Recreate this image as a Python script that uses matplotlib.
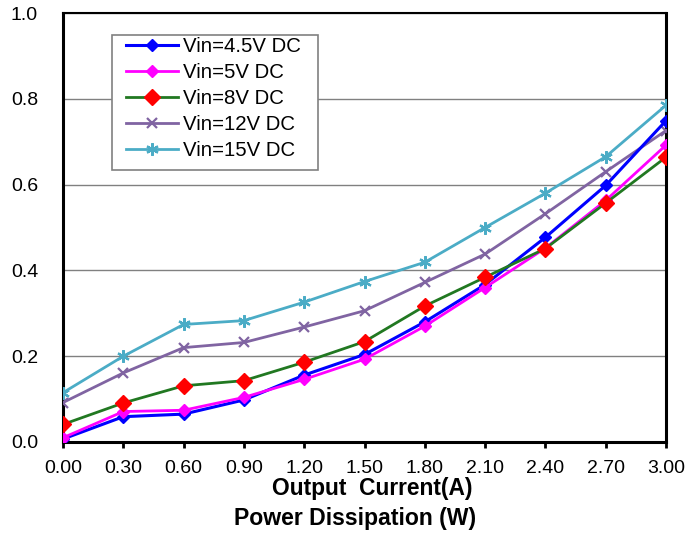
import matplotlib
matplotlib.use("Agg")
import matplotlib.pyplot as plt
from matplotlib.patches import Rectangle

plt.rcParams['font.family'] = ['Liberation Sans', 'DejaVu Sans']

# output current (A)
current = [0.00, 0.30, 0.60, 0.90, 1.20, 1.50, 1.80, 2.10, 2.40, 2.70, 3.00]
x_labels = ['0.00', '0.30', '0.60', '0.90', '1.20', '1.50', '1.80', '2.10', '2.40', '2.70', '3.00']

# power dissipation (W)
vin_4v5 = [0.007, 0.059, 0.065, 0.098, 0.156, 0.204, 0.280, 0.367, 0.477, 0.598, 0.749]
vin_5v = [0.010, 0.071, 0.074, 0.104, 0.146, 0.193, 0.270, 0.360, 0.452, 0.563, 0.692]
vin_8v = [0.041, 0.091, 0.131, 0.143, 0.186, 0.234, 0.317, 0.384, 0.451, 0.557, 0.664]
vin_12v = [0.092, 0.161, 0.220, 0.232, 0.268, 0.306, 0.372, 0.438, 0.532, 0.630, 0.726]
vin_15v = [0.115, 0.200, 0.274, 0.283, 0.326, 0.374, 0.419, 0.500, 0.580, 0.665, 0.785]

W, H = 698, 533
fig = plt.figure(figsize=(W / 100, H / 100), dpi=100)
ax = fig.add_axes([63 / W, 1 - 442 / H, 603 / W, 429 / H])

ax.plot(current, vin_4v5, color='#0000FF', lw=2.2, marker='D', ms=6,
        mfc='#0000FF', mec='#0000FF', label='Vin=4.5V DC', zorder=4)
ax.plot(current, vin_5v, color='#FF00FF', lw=2.0, marker='D', ms=6,
        mfc='#FF00FF', mec='#FF00FF', label='Vin=5V DC', zorder=5)
ax.plot(current, vin_8v, color='#217821', lw=2.0, marker='D', ms=8.5,
        mfc='#FF0000', mec='#FF0000', label='Vin=8V DC', zorder=6)
ax.plot(current, vin_12v, color='#8064A2', lw=2.0, marker='x', ms=7,
        mew=1.6, label='Vin=12V DC', zorder=3)
ax.plot(current, vin_15v, color='#4BACC6', lw=2.0, marker=(6, 2, 0), ms=9,
        mew=1.6, label='Vin=15V DC', zorder=3)

ax.set_xlim(0, 3.0)
ax.set_ylim(0, 1.0)
ax.set_xticks(current)
ax.set_xticklabels(x_labels)
ax.set_yticks([0.0, 0.2, 0.4, 0.6, 0.8, 1.0])
ax.set_yticklabels(['0.0', '0.2', '0.4', '0.6', '0.8', '1.0'])
ax.tick_params(axis='x', direction='out', length=4, width=2, pad=9, labelsize=14)
ax.tick_params(axis='y', length=0, pad=18, labelsize=14)
ax.grid(axis='y', color='#808080', lw=1.0)
ax.set_axisbelow(True)

for side in ['left', 'bottom', 'right']:
    ax.spines[side].set_linewidth(2.2)
ax.spines['top'].set_linewidth(1.5)

# legend frame drawn by hand so the padding can differ per side
frame = Rectangle((112 / W, 1 - 170 / H), 206 / W, 135 / H, transform=fig.transFigure,
                  facecolor='white', edgecolor='#808080', lw=1.2, zorder=9)
ax.add_patch(frame)
frame.set_clip_on(False)

leg = ax.legend(loc='upper left', bbox_to_anchor=(126 / W, 1 - 37 / H),
                bbox_transform=fig.transFigure, fontsize=14.7, frameon=False,
                handlelength=2.55, handletextpad=0.25, labelspacing=0.34,
                borderpad=0, borderaxespad=0)
leg.set_zorder(10)

fig.text(372 / W, 1 - 495 / H, 'Output  Current(A)', ha='center', va='baseline',
         fontsize=16.4, fontweight='bold')
fig.text(355 / W, 1 - 525 / H, 'Power Dissipation (W)', ha='center', va='baseline',
         fontsize=16.6, fontweight='bold')

fig.savefig('out.png', dpi=100)
